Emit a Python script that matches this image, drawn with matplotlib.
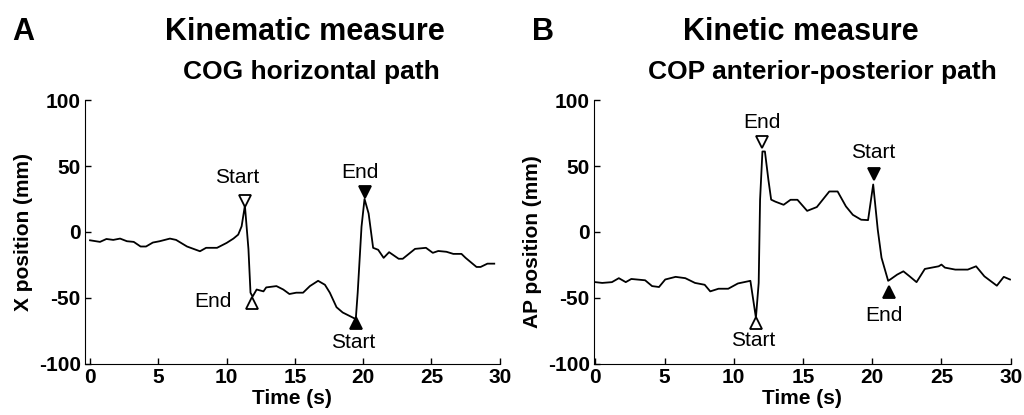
import numpy as np
import matplotlib.pyplot as plt

plt.rcParams['font.family'] = ['Liberation Sans', 'DejaVu Sans']
plt.rcParams['axes.unicode_minus'] = False

# Panel A: COG horizontal path (time s, X position mm)
t_cog = [0, 0.73, 1.2, 1.7, 2.2, 2.7, 3.2, 3.7, 4.1, 4.6, 5.1, 5.85, 6.3, 7.1, 8.05,
         8.5, 9.3, 10.0, 10.5, 10.85, 11.1, 11.34, 11.6, 11.75, 11.9, 12.2, 12.7, 12.9,
         13.65, 14.15, 14.6, 15.1, 15.6, 16.1, 16.7, 17.2, 17.56, 18.05, 18.5, 19.27,
         19.46, 19.6, 19.88, 20.1, 20.4, 20.73, 21.1, 21.5, 21.9, 22.6, 22.9, 23.8, 24.6,
         25.1, 25.5, 26.1, 26.6, 27.2, 27.5, 28.3, 28.6, 29.1, 29.6]
x_cog = [-6.3, -7.5, -5.3, -6, -5, -7, -7.5, -11, -11, -8, -7, -5, -6, -11, -14.6,
         -12, -12, -8.3, -5, -2, 4.3, 20, -13, -46, -49, -43.6, -45, -42,
         -41, -43.6, -47, -46, -46, -41, -37, -40, -46, -57, -61, -65,
         -66, -46, 4, 25, 14, -12, -13.5, -19.6, -15.3, -20.3, -20.3, -12.8, -12,
         -15.8, -14.4, -15, -16.6, -16.6, -19.6, -26.5, -26.5, -24, -24]

# Panel B: COP anterior-posterior path (time s, AP position mm)
t_cop = [0, 0.5, 1.2, 1.7, 2.2, 2.6, 3.6, 4.1, 4.6, 5.05, 5.8, 6.5, 7.2, 7.9, 8.3,
         8.9, 9.6, 10.3, 11.2, 11.4, 11.6, 11.8, 11.9, 12.07, 12.25, 12.5, 12.7, 13.0,
         13.6, 14.1, 14.6, 15.3, 16.0, 16.9, 17.5, 18.1, 18.6, 19.2, 19.7, 20.07, 20.4,
         20.67, 21.15, 21.3, 21.8, 22.25, 22.7, 23.2, 23.8, 24.3, 24.8, 25.0, 25.25,
         26.0, 26.9, 27.5, 28.1, 29.0, 29.5, 29.95]
ap_cop = [-38, -38.6, -38, -35, -38, -35.6, -36.6, -41, -41.7, -36, -34, -35, -38.6, -40, -45,
          -43, -43, -39, -37, -51, -65, -38.6, 24.5, 61, 61, 39.6, 24.5, 23,
          20.6, 24.4, 24.4, 16, 18.9, 30.7, 30.7, 19.4, 13, 9.3, 9, 36, 1.7,
          -19.5, -37, -36, -32.3, -29.8, -33.6, -38, -28, -27, -26, -24.7, -27,
          -28.5, -28.5, -26, -33.6, -40.7, -34, -36]

# event markers: (t, y, marker, filled, label, label_t, label_y)
events_a = [(11.34, 23.5, 'v', False, 'Start', 10.74, 41),
            (11.85, -53.8, '^', False, 'End', 9.0, -53),
            (19.45, -69, '^', True, 'Start', 19.25, -84),
            (20.1, 30.3, 'v', True, 'End', 19.75, 44.7)]
events_b = [(12.04, 68.2, 'v', False, 'End', 12.04, 83),
            (11.6, -69, '^', False, 'Start', 11.4, -82.5),
            (20.1, 44, 'v', True, 'Start', 20.1, 60),
            (21.2, -45.5, '^', True, 'End', 20.85, -63)]

fig = plt.figure(figsize=(10.24, 4.15), dpi=100)
axA = fig.add_axes([0.083, 0.123, 0.405, 0.636])
axB = fig.add_axes([0.580, 0.123, 0.407, 0.636])


def style(ax, t, y, events, ylabel, xlim0, ylab_y):
    ax.plot(t, y, color='black', lw=1.3)
    for et, ey, m, filled, lab, lt, ly in events:
        ax.plot(et, ey, marker=m, ms=9, mec='black', mew=1.3,
                mfc='black' if filled else 'white', ls='none')
        ax.text(lt, ly, lab, ha='center', va='center', fontsize=15)
    ax.set_xlim(xlim0, 30)
    ax.set_ylim(-100, 100)
    ax.set_xticks(np.arange(0, 31, 5))
    ax.set_yticks([-100, -50, 0, 50, 100])
    ax.spines['top'].set_visible(False)
    ax.spines['right'].set_visible(False)
    ax.tick_params(direction='in', length=4, width=1, labelsize=15, pad=3)
    for lbl in ax.get_xticklabels() + ax.get_yticklabels():
        lbl.set_fontweight('bold')
    ax.set_xlabel('Time (s)', fontsize=15, fontweight='bold', labelpad=1)
    ax.set_ylabel(ylabel, fontsize=15, fontweight='bold')
    ax.yaxis.set_label_coords(-0.125, ylab_y)


style(axA, t_cog, x_cog, events_a, 'X position (mm)', -0.37, 0.5)
style(axB, t_cop, ap_cop, events_b, 'AP position (mm)', -0.1, 0.462)

fig.text(0.023, 0.923, 'A', fontsize=22, fontweight='bold', ha='center', va='center')
fig.text(0.298, 0.923, 'Kinematic measure', fontsize=22, fontweight='bold', ha='center', va='center')
fig.text(0.304, 0.827, 'COG horizontal path', fontsize=19, fontweight='bold', ha='center', va='center')
fig.text(0.530, 0.923, 'B', fontsize=22, fontweight='bold', ha='center', va='center')
fig.text(0.782, 0.923, 'Kinetic measure', fontsize=22, fontweight='bold', ha='center', va='center')
fig.text(0.803, 0.827, 'COP anterior-posterior path', fontsize=19, fontweight='bold', ha='center', va='center')

fig.savefig('out.png', dpi=100)
